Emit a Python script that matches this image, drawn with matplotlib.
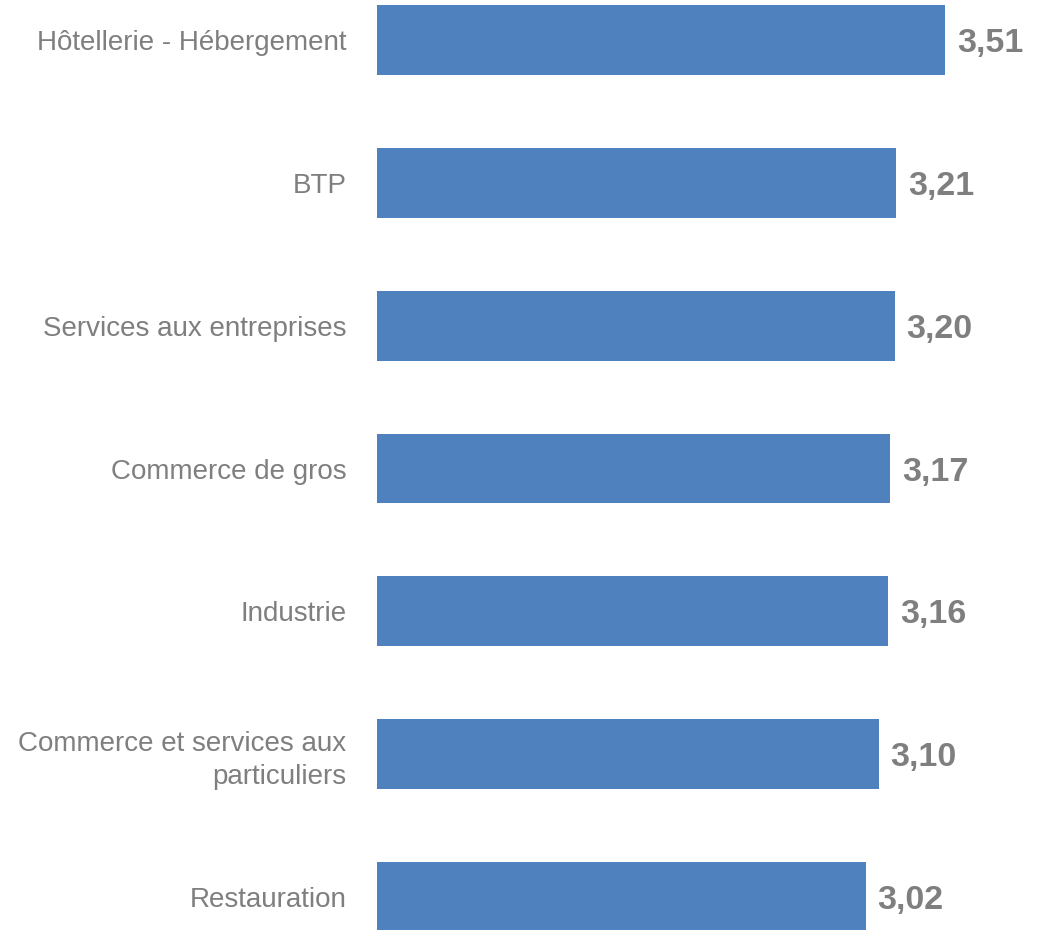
import matplotlib.pyplot as plt

plt.rcParams['font.family'] = ['Liberation Sans', 'DejaVu Sans']

secteurs = ["Hôtellerie - Hébergement", "BTP", "Services aux entreprises",
            "Commerce de gros", "Industrie",
            "Commerce et services aux\nparticuliers", "Restauration"]
valeurs = [3.51, 3.21, 3.20, 3.17, 3.16, 3.10, 3.02]

W, H = 1054, 930
fig = plt.figure(figsize=(W / 100, H / 100), dpi=100)
ax = fig.add_axes([377 / W, 0, (W - 377) / W, 1])

pos = list(range(len(secteurs)))
ax.barh(pos, valeurs, height=0.49, color="#4e81bd")   # slupki

# etykiety wartosci
for p, v in zip(pos, valeurs):
    ax.annotate(f"{v:.2f}".replace(".", ","), (v, p), xytext=(8.5, 0),
                textcoords="offset points", va="center_baseline", ha="left",
                fontsize=24.5, fontweight="bold", color="#7f7f7f")

ax.set_xlim(0, (W - 377) / 161.8)
ax.set_ylim(6 + 33 / 142.8, -40 / 142.8)
ax.set_yticks(pos)
ax.set_yticklabels(secteurs, fontsize=20, color="#7f7f7f", linespacing=1.32)
ax.tick_params(axis="y", length=0, pad=22)
ax.set_xticks([])
for s in ax.spines.values():
    s.set_visible(False)

fig.savefig("out.png", dpi=100)
